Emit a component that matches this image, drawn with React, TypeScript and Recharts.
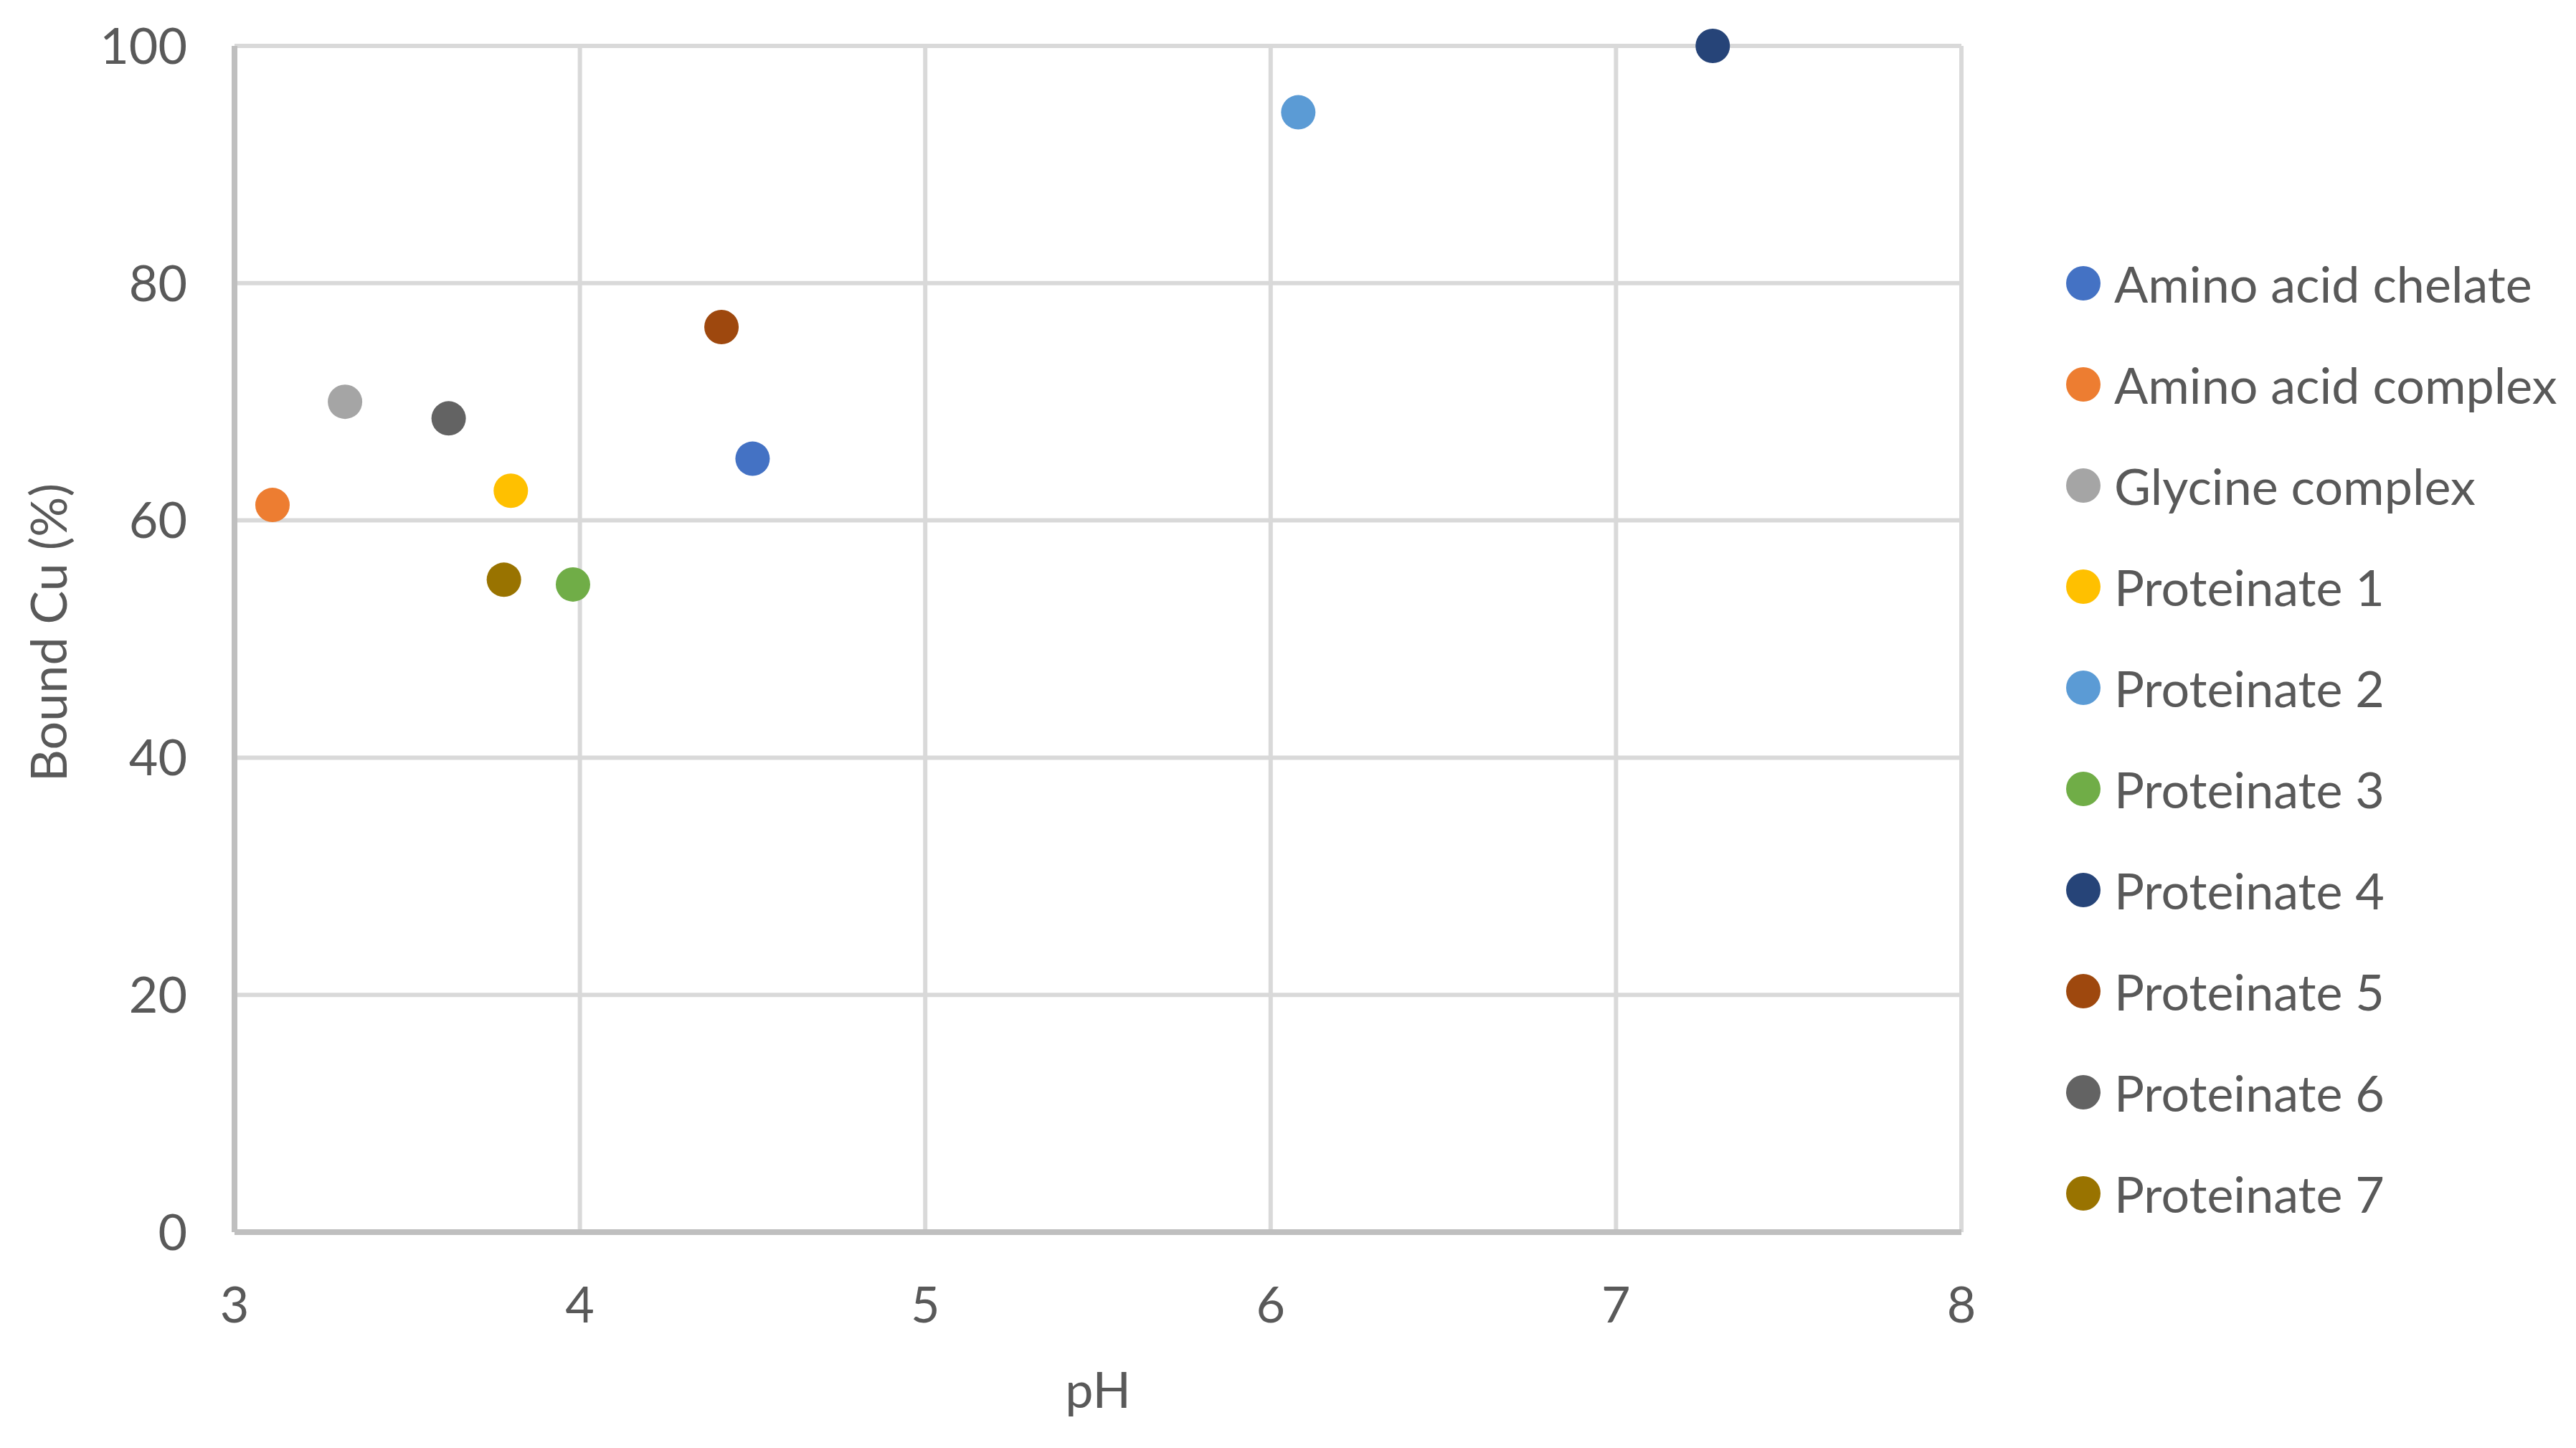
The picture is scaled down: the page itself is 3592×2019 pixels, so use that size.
import { ScatterChart, Scatter, XAxis, YAxis, CartesianGrid } from 'recharts'

const SERIES_NAMES = [
  'Amino acid chelate',
  'Amino acid complex',
  'Glycine complex',
  'Proteinate 1',
  'Proteinate 2',
  'Proteinate 3',
  'Proteinate 4',
  'Proteinate 5',
  'Proteinate 6',
  'Proteinate 7',
]
const SERIES_COLORS = [
  '#4472C4',
  '#ED7D31',
  '#A5A5A5',
  '#FFC000',
  '#5B9BD5',
  '#70AD47',
  '#264478',
  '#9E480E',
  '#636363',
  '#997300',
]
const PH = [4.5, 3.11, 3.32, 3.8, 6.08, 3.98, 7.28, 4.41, 3.62, 3.78]
const BOUND_CU = [65.2, 61.3, 70.0, 62.5, 94.4, 54.6, 100, 76.3, 68.6, 55.0]
const X_TICKS = [3, 4, 5, 6, 7, 8]
const Y_TICKS = [0, 20, 40, 60, 80, 100]

const FONT = 'Lato, "Liberation Sans", sans-serif'
const TEXT = '#595959'
const DOT_R = 24

const Dot = (props: any) => (
  <circle cx={props.cx} cy={props.cy} r={DOT_R} fill={props.fill} />
)

// legend sits outside the chart so it doesn't eat into the plot width
const LegendBox = () => (
  <div
    style={{
      position: 'absolute',
      left: 2881,
      top: 324,
      fontFamily: FONT,
      fontSize: 70,
      color: TEXT,
    }}
  >
    {SERIES_NAMES.map((name, i) => (
      <div key={name} style={{ display: 'flex', alignItems: 'center', height: 141 }}>
        <svg width={48} height={48} style={{ marginRight: 19 }}>
          <circle cx={24} cy={24} r={DOT_R} fill={SERIES_COLORS[i]} />
        </svg>
        <span style={{ whiteSpace: 'nowrap' }}>{name}</span>
      </div>
    ))}
  </div>
)

const XTitle = (props: any) => {
  const vb = props.viewBox
  return (
    <text x={vb.x + vb.width / 2} y={1963} textAnchor="middle" fill={TEXT} fontSize={70} fontFamily={FONT}>
      pH
    </text>
  )
}

const YTitle = () => (
  <text
    x={66}
    y={882}
    transform="rotate(-90, 66, 882)"
    textAnchor="middle"
    dominantBaseline="central"
    fill={TEXT}
    fontSize={70}
    fontFamily={FONT}
  >
    Bound Cu (%)
  </text>
)

export default function App() {
  return (
    <div style={{ position: 'absolute', left: 0, top: 0, width: 3592, height: 2019, background: '#fff' }}>
      <ScatterChart width={3592} height={2019} margin={{ top: 64, right: 857, bottom: 0, left: 0 }}>
        <CartesianGrid stroke="#D9D9D9" strokeWidth={6} />
        <XAxis
          type="number"
          dataKey="x"
          domain={[3, 8]}
          ticks={X_TICKS}
          height={301}
          tickLine={false}
          tickSize={0}
          tickMargin={76}
          axisLine={{ stroke: '#BFBFBF', strokeWidth: 8 }}
          tick={{ fill: TEXT, fontSize: 70, fontFamily: FONT }}
          label={{ value: 'pH', content: XTitle }}
        />
        <YAxis
          type="number"
          dataKey="y"
          domain={[0, 100]}
          ticks={Y_TICKS}
          width={327}
          tickLine={false}
          tickSize={0}
          tickMargin={66}
          axisLine={{ stroke: '#BFBFBF', strokeWidth: 8 }}
          tick={{ fill: TEXT, fontSize: 70, fontFamily: FONT }}
          label={{ value: 'Bound Cu (%)', content: YTitle }}
        />
        {SERIES_NAMES.map((name, i) => (
          <Scatter
            key={name}
            name={name}
            data={[{ x: PH[i], y: BOUND_CU[i] }]}
            fill={SERIES_COLORS[i]}
            shape={Dot}
            isAnimationActive={false}
          />
        ))}
      </ScatterChart>
      <LegendBox />
    </div>
  )
}
